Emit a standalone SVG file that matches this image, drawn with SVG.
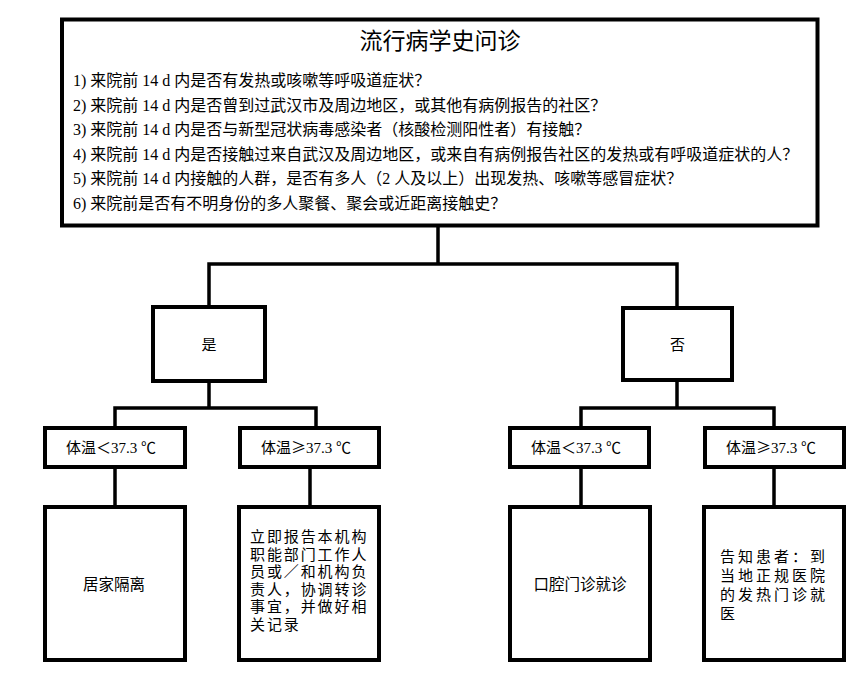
<svg xmlns="http://www.w3.org/2000/svg" width="866" height="675" viewBox="0 0 866 675">
<style>
.box{fill:#fff;stroke:#000;stroke-width:4}
.conn{fill:none;stroke:#000;stroke-width:3.5;stroke-linejoin:miter}
.t{font-family:"Liberation Serif","Noto Sans CJK SC",serif;fill:#000}
.s{font-family:"Liberation Sans","Noto Sans CJK SC",sans-serif;fill:#000}
.c{font-family:"Noto Sans CJK SC",sans-serif}
.q{font-size:16px}
.m{text-anchor:middle}
</style>
<rect width="866" height="675" fill="#fff"/>
<g id="connectors">
<path class="conn" d="M438 227 V264 M209 306 V264 H677 V306"/>
<path class="conn" d="M209 383 V408 M115 427 V408 H316 V427"/>
<path class="conn" d="M677 382 V408 M581 427 V408 H774 V427"/>
<path class="conn" d="M115 469 V506 M310 469 V506 M581 469 V506 M774 469 V506"/>
</g>
<g id="history">
<rect class="box" x="62" y="19.5" width="755.5" height="206"/>
<text class="t m" x="440" y="49" font-size="23">流行病学史问诊</text>
<text class="t q" x="73" y="86">1) 来院前 14 d 内是否有发热或咳嗽等呼吸道症状？</text>
<text class="t q" x="73" y="110.6">2) 来院前 14 d 内是否曾到过武汉市及周边地区，或其他有病例报告的社区？</text>
<text class="t q" x="73" y="135.2">3) 来院前 14 d 内是否与新型冠状病毒感染者（核酸检测阳性者）有接触？</text>
<text class="t q" x="73" y="159.8">4) 来院前 14 d 内是否接触过来自武汉及周边地区，或来自有病例报告社区的发热或有呼吸道症状的人？</text>
<text class="t q" x="73" y="184.4">5) 来院前 14 d 内接触的人群，是否有多人（2 人及以上）出现发热、咳嗽等感冒症状？</text>
<text class="t q" x="73" y="209">6) 来院前是否有不明身份的多人聚餐、聚会或近距离接触史？</text>
</g>
<g id="yes">
<rect class="box" x="153" y="307" width="112" height="74"/>
<text class="t m" x="209" y="350" font-size="15">是</text>
</g>
<g id="no">
<rect class="box" x="623" y="308" width="109" height="72"/>
<text class="t m" x="677.5" y="350" font-size="15">否</text>
</g>
<g id="yes-low">
<rect class="box" x="45" y="428" width="140" height="39"/>
<text class="t m" x="111" y="453" font-size="15">体温＜37.3 ℃</text>
</g>
<g id="yes-high">
<rect class="box" x="240" y="428" width="139" height="39"/>
<text class="t m" x="306" y="453" font-size="15">体温<tspan class="c">≥</tspan>37.3 ℃</text>
</g>
<g id="no-low">
<rect class="box" x="510" y="428" width="139" height="39"/>
<text class="t m" x="576" y="453" font-size="15">体温＜37.3 ℃</text>
</g>
<g id="no-high">
<rect class="box" x="705" y="428" width="139" height="39"/>
<text class="t m" x="771" y="453" font-size="15">体温<tspan class="c">≥</tspan>37.3 ℃</text>
</g>
<g id="home-isolation">
<rect class="box" x="45" y="507" width="140" height="153"/>
<text class="s m" x="114" y="590" font-size="15.5">居家隔离</text>
</g>
<g id="report">
<rect class="box" x="239" y="507" width="140" height="153"/>
<text class="s" font-size="15" letter-spacing="1.9">
<tspan x="250" y="542">立即报告本机构</tspan>
<tspan x="250" y="559.5">职能部门工作人</tspan>
<tspan x="250" y="577">员或／和机构负</tspan>
<tspan x="250" y="594.5">责人，协调转诊</tspan>
<tspan x="250" y="612">事宜，并做好相</tspan>
<tspan x="250" y="629.5">关记录</tspan>
</text>
</g>
<g id="dental">
<rect class="box" x="510" y="507" width="140" height="153"/>
<text class="s m" x="580" y="590" font-size="15.5">口腔门诊就诊</text>
</g>
<g id="inform">
<rect class="box" x="704" y="507" width="140" height="153"/>
<text class="s" font-size="15" letter-spacing="3">
<tspan x="720" y="562">告知患者：到</tspan>
<tspan x="720" y="581">当地正规医院</tspan>
<tspan x="720" y="600">的发热门诊就</tspan>
<tspan x="720" y="619">医</tspan>
</text>
</g>
</svg>
